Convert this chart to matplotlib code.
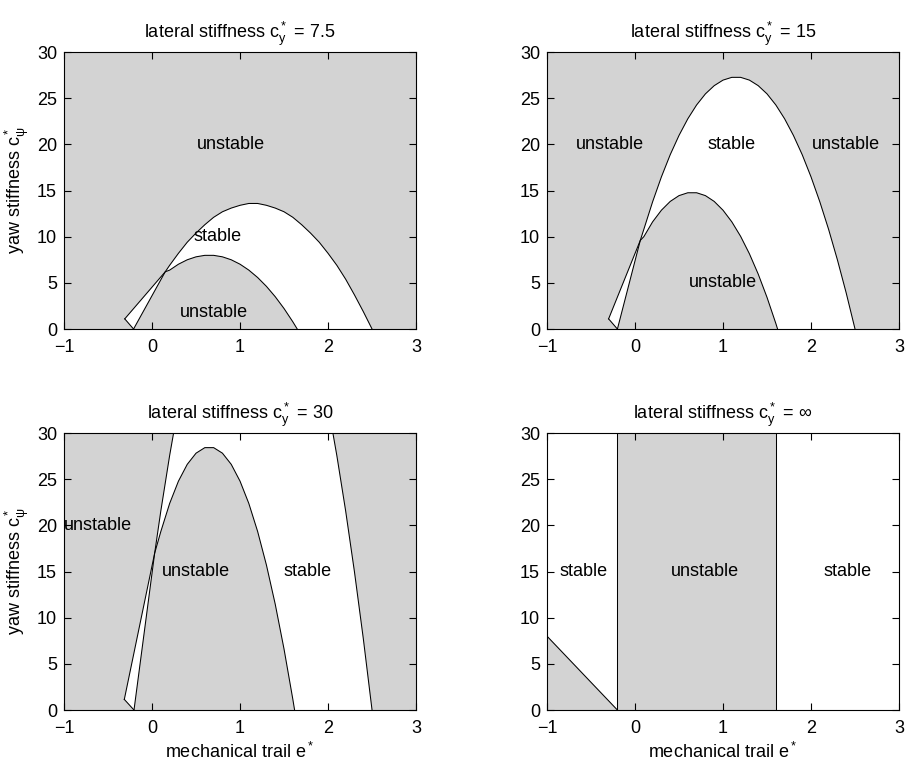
import numpy as np
import matplotlib
matplotlib.use("Agg")
import matplotlib.pyplot as plt

plt.rcParams["font.family"] = ["Liberation Sans", "DejaVu Sans"]
plt.rcParams["mathtext.default"] = "regular"
plt.rcParams["font.size"] = 13

GRAY = "#d3d3d3"

# lateral stiffness c_y* = 7.5
e_out_1 = [-0.31, 0.15, 0.2, 0.3, 0.4, 0.5, 0.6, 0.7, 0.8, 0.9, 1.0, 1.1, 1.2,
           1.3, 1.4, 1.5, 1.6, 1.7, 1.8, 1.9, 2.0, 2.1, 2.2, 2.3, 2.4, 2.5]
c_out_1 = [1.1, 6.2, 6.9, 8.2, 9.4, 10.4, 11.3, 12.1, 12.7, 13.1, 13.4, 13.6, 13.6,
           13.4, 13.1, 12.7, 12.1, 11.3, 10.4, 9.4, 8.2, 6.9, 5.4, 3.7, 1.9, 0.0]
e_in_1 = [-0.21, 0.15, 0.2, 0.3, 0.4, 0.5, 0.6, 0.7, 0.8, 0.9, 1.0, 1.1, 1.2,
          1.3, 1.4, 1.5, 1.6, 1.65]
c_in_1 = [0.0, 6.2, 6.38, 7.02, 7.5, 7.82, 7.98, 7.98, 7.82, 7.5, 7.02, 6.38, 5.58,
          4.62, 3.5, 2.22, 0.78, 0.0]

# lateral stiffness c_y* = 15
e_out_2 = [-0.30, 0.06, 0.1, 0.2, 0.3, 0.4, 0.5, 0.6, 0.7, 0.8, 0.9, 1.0, 1.1, 1.2,
           1.3, 1.4, 1.5, 1.6, 1.7, 1.8, 1.9, 2.0, 2.1, 2.2, 2.3, 2.4, 2.5]
c_out_2 = [1.1, 9.6, 10.79, 13.78, 16.48, 18.88, 20.97, 22.77, 24.27, 25.47, 26.36,
           26.96, 27.26, 27.26, 26.96, 26.36, 25.47, 24.27, 22.77, 20.97, 18.88,
           16.48, 13.78, 10.79, 7.49, 3.9, 0.0]
e_in_2 = [-0.20, 0.06, 0.1, 0.2, 0.3, 0.4, 0.5, 0.6, 0.7, 0.8, 0.9, 1.0, 1.1, 1.2,
          1.3, 1.4, 1.5, 1.6, 1.62]
c_in_2 = [0.0, 9.6, 10.0, 11.61, 12.87, 13.82, 14.45, 14.76, 14.76, 14.45, 13.82,
          12.87, 11.61, 10.04, 8.15, 5.95, 3.43, 0.61, 0.0]

# lateral stiffness c_y* = 30 (outer boundary leaves the plotted range)
e_out_3a = [-0.315, 0.03, 0.1, 0.2, 0.245]
c_out_3a = [1.15, 17.0, 21.57, 27.56, 30.0]
e_out_3b = [2.055, 2.1, 2.2, 2.3, 2.4, 2.5]
c_out_3b = [30.0, 27.56, 21.57, 14.98, 7.79, 0.0]
e_in_3 = [-0.205, 0.03, 0.1, 0.2, 0.3, 0.4, 0.5, 0.6, 0.7, 0.8, 0.9, 1.0, 1.1, 1.2,
          1.3, 1.4, 1.5, 1.6, 1.62]
c_in_3 = [0.0, 17.0, 19.34, 22.37, 24.79, 26.61, 27.82, 28.42, 28.42, 27.82, 26.61,
          24.79, 22.37, 19.34, 15.7, 11.46, 6.6, 1.16, 0.0]

# lateral stiffness c_y* = inf
e_line_4 = [-1.0, -0.2]
c_line_4 = [8.0, 0.0]
e_walls_4 = [-0.2, 1.6]

titles = [r"lateral stiffness $c_y^*$ = 7.5",
          r"lateral stiffness $c_y^*$ = 15",
          r"lateral stiffness $c_y^*$ = 30",
          r"lateral stiffness $c_y^*$ = $\infty$"]

labels = [
    [("unstable", 0.9, 20), ("stable", 0.75, 10), ("unstable", 0.7, 1.8)],
    [("unstable", -0.28, 20), ("stable", 1.1, 20), ("unstable", 2.4, 20),
     ("unstable", 1.0, 5)],
    [("unstable", -0.62, 20), ("unstable", 0.5, 15), ("stable", 1.77, 15)],
    [("stable", -0.58, 15), ("unstable", 0.8, 15), ("stable", 2.42, 15)],
]

LW = 0.75

fig = plt.figure(figsize=(9.07, 7.70), dpi=100)
W, H = 0.3881, 0.3597
positions = [(0.0706, 0.5727), (0.6031, 0.5727), (0.0706, 0.0779), (0.6031, 0.0779)]
axes = [fig.add_axes([x0, y0, W, H]) for x0, y0 in positions]


def stable_patch(e_in, c_in, e_out, c_out):
    # inner boundary forward, then outer boundary back to the start
    xs = list(e_in) + list(e_out[::-1])
    ys = list(c_in) + list(c_out[::-1])
    return xs, ys


for ax in axes:
    ax.set_facecolor(GRAY)
    ax.set_xlim(-1, 3)
    ax.set_ylim(0, 30)
    ax.set_xticks([-1, 0, 1, 2, 3])
    ax.set_yticks([0, 5, 10, 15, 20, 25, 30])
    ax.tick_params(direction="in", top=True, right=True, length=5, width=0.8,
                   labelsize=13)
    ax.tick_params(axis="x", pad=7)
    ax.tick_params(axis="y", pad=5)
    for sp in ax.spines.values():
        sp.set_linewidth(0.8)

# finite lateral stiffness panels
finite = [(e_in_1, c_in_1, e_out_1, c_out_1),
          (e_in_2, c_in_2, e_out_2, c_out_2)]
for ax, (ei, ci, eo, co) in zip(axes[:2], finite):
    xs, ys = stable_patch(ei, ci, eo, co)
    ax.fill(xs, ys, color="white", lw=0)
    ax.plot(eo, co, color="k", lw=LW)
    ax.plot(ei, ci, color="k", lw=LW)
    ax.plot([eo[0], ei[0]], [co[0], ci[0]], color="k", lw=LW)

ax = axes[2]
xs = e_in_3 + e_out_3b[::-1] + e_out_3a[::-1]
ys = c_in_3 + c_out_3b[::-1] + c_out_3a[::-1]
ax.fill(xs, ys, color="white", lw=0)
ax.plot(e_out_3a, c_out_3a, color="k", lw=LW)
ax.plot(e_out_3b, c_out_3b, color="k", lw=LW)
ax.plot(e_in_3, c_in_3, color="k", lw=LW)
ax.plot([e_out_3a[0], e_in_3[0]], [c_out_3a[0], c_in_3[0]], color="k", lw=LW)

ax = axes[3]
ax.fill([e_line_4[0], e_line_4[1], e_walls_4[0], -1], [c_line_4[0], c_line_4[1], 30, 30],
        color="white", lw=0)
ax.fill([e_walls_4[1], 3, 3, e_walls_4[1]], [0, 0, 30, 30], color="white", lw=0)
ax.plot(e_line_4, c_line_4, color="k", lw=LW)
for e in e_walls_4:
    ax.plot([e, e], [0, 30], color="k", lw=LW)

for ax, title, lab in zip(axes, titles, labels):
    ax.set_title(title, fontsize=13, pad=10)
    for txt, x, y in lab:
        ax.text(x, y, txt, ha="center", va="center", fontsize=13)

for ax in (axes[0], axes[2]):
    ax.set_ylabel(r"yaw stiffness $c_\psi^*$", fontsize=13)
for ax in (axes[2], axes[3]):
    ax.set_xlabel(r"mechanical trail $e^*$", fontsize=13)

fig.savefig("out.png", dpi=100)
